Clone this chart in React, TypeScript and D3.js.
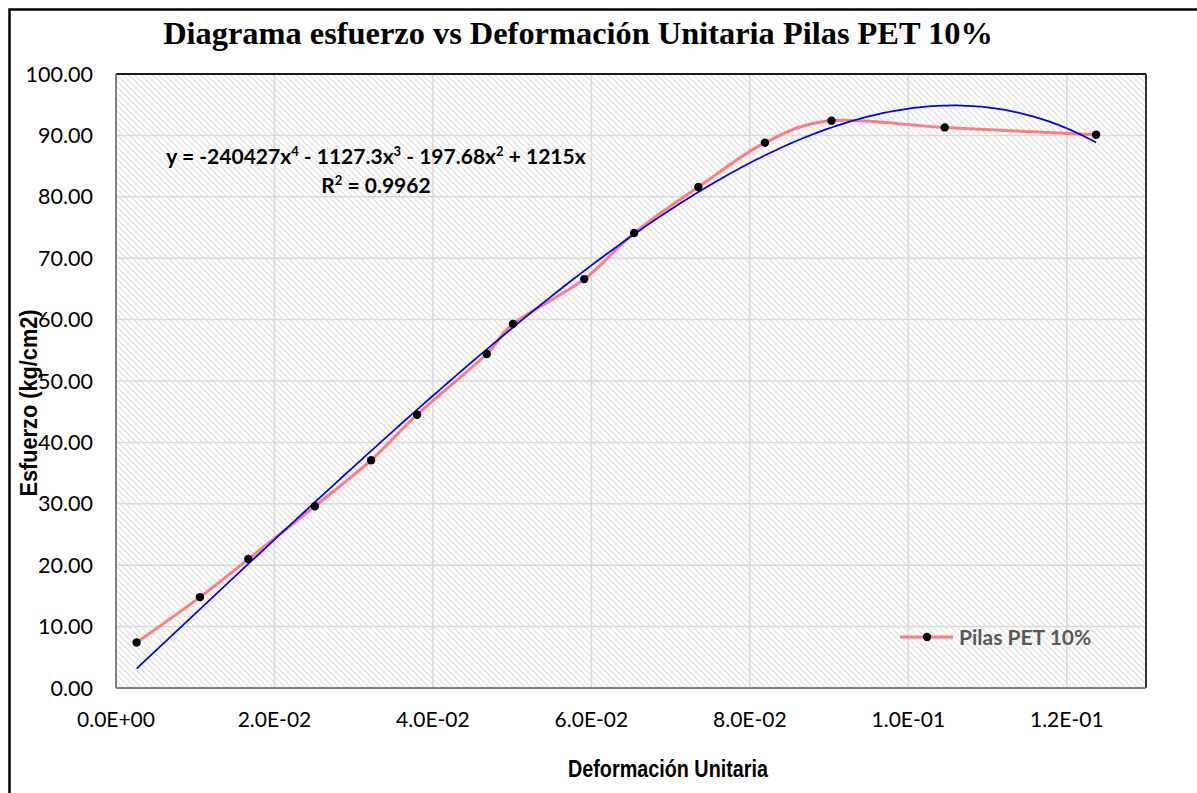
import React from "react";
import * as d3 from "d3";

const strainValues = [0.0026, 0.0106, 0.0167, 0.0251, 0.0322, 0.038, 0.0468, 0.0501, 0.0591, 0.0654, 0.0735, 0.0819, 0.0903, 0.1046, 0.1237];
const stressValues = [7.4, 14.8, 21.0, 29.6, 37.1, 44.5, 54.4, 59.3, 66.6, 74.1, 81.6, 88.8, 92.4, 91.3, 90.1];
// trendline coefficients as printed in the chart: c1*x + c2*x^2 + c3*x^3 + c4*x^4
const trendCoefficients = [1215, -197.68, -1127.3, -240427];
const xTicks = [0, 0.02, 0.04, 0.06, 0.08, 0.1, 0.12];
const xTickLabels = ["0.0E+00", "2.0E-02", "4.0E-02", "6.0E-02", "8.0E-02", "1.0E-01", "1.2E-01"];
const yTicks = [0, 10, 20, 30, 40, 50, 60, 70, 80, 90, 100];

const W = 1197;
const H = 793;
const plot = { left: 116, top: 74, right: 1146, bottom: 688 };

export default function App() {
  const x = d3.scaleLinear().domain([0, 0.13]).range([plot.left, plot.right]);
  const y = d3.scaleLinear().domain([0, 100]).range([plot.bottom, plot.top]);

  const pts: [number, number][] = strainValues.map((v, i) => [v, stressValues[i]]);
  const smooth = d3
    .line<[number, number]>()
    .x((d) => x(d[0]))
    .y((d) => y(d[1]))
    .curve(d3.curveCatmullRom.alpha(0));

  const poly = (v: number) => trendCoefficients.reduce((s, c, i) => s + c * Math.pow(v, i + 1), 0);
  const x0 = strainValues[0];
  const x1 = strainValues[strainValues.length - 1];
  const trendPts: [number, number][] = d3.range(0, 201).map((k) => {
    const v = x0 + ((x1 - x0) * k) / 200;
    return [v, poly(v)];
  });
  const straight = d3
    .line<[number, number]>()
    .x((d) => x(d[0]))
    .y((d) => y(d[1]));

  const tickFont = "Lato, 'Open Sans', sans-serif";
  const narrow = "'Liberation Sans', Arial, sans-serif";

  return (
    <svg width={W} height={H} style={{ position: "absolute", left: 0, top: 0, display: "block", background: "#fff" }}>
      <defs>
        <pattern id="hatch" patternUnits="userSpaceOnUse" width={6} height={6}>
          <rect width={6} height={6} fill="#ffffff" />
          <path d="M0,0 L6,6 M-3,3 L3,9 M3,-3 L9,3" stroke="#dedede" strokeWidth={1.2} />
        </pattern>
      </defs>
      <rect x={0} y={0} width={W} height={H} fill="#fff" />
      <rect x={9.5} y={9.5} width={W + 20} height={H + 20} fill="none" stroke="#000" strokeWidth={2.5} />

      <text x={578} y={44} textAnchor="middle" fontFamily="'Liberation Serif', 'Times New Roman', serif" fontWeight="bold" fontSize={32.4} fill="#000">
        Diagrama esfuerzo vs Deformación Unitaria Pilas PET 10%
      </text>

      <rect x={plot.left} y={plot.top} width={plot.right - plot.left} height={plot.bottom - plot.top} fill="url(#hatch)" />

      {xTicks.slice(1).map((t) => (
        <line key={"vx" + t} x1={x(t)} x2={x(t)} y1={plot.top} y2={plot.bottom} stroke="#d9d9d9" strokeWidth={1.5} />
      ))}
      {yTicks.slice(1, -1).map((t) => (
        <line key={"hy" + t} x1={plot.left} x2={plot.right} y1={y(t)} y2={y(t)} stroke="#d9d9d9" strokeWidth={1.5} />
      ))}

      <line x1={plot.left} x2={plot.right} y1={plot.top} y2={plot.top} stroke="#1a1a1a" strokeWidth={2} />
      <line x1={plot.right} x2={plot.right} y1={plot.top} y2={plot.bottom} stroke="#333" strokeWidth={2} />
      <line x1={plot.left} x2={plot.left} y1={plot.top} y2={plot.bottom} stroke="#808080" strokeWidth={2} />
      <line x1={plot.left} x2={plot.right} y1={plot.bottom} y2={plot.bottom} stroke="#808080" strokeWidth={2} />

      {yTicks.map((t) => (
        <text key={"yl" + t} x={93} y={y(t)} dy="0.35em" textAnchor="end" fontFamily={tickFont} fontSize={21.5} fill="#000">
          {t.toFixed(2)}
        </text>
      ))}
      {xTicks.map((t, i) => (
        <text key={"xl" + t} x={x(t)} y={727} textAnchor="middle" fontFamily={tickFont} fontSize={21} fill="#000">
          {xTickLabels[i]}
        </text>
      ))}

      <text x={668} y={777} textAnchor="middle" fontFamily={narrow} fontWeight="bold" fontSize={23} fill="#000" textLength={200} lengthAdjust="spacingAndGlyphs">
        Deformación Unitaria
      </text>
      <text transform={`translate(37,403) rotate(-90)`} textAnchor="middle" fontFamily={narrow} fontWeight="bold" fontSize={23} fill="#000" textLength={187} lengthAdjust="spacingAndGlyphs">
        Esfuerzo (kg/cm2)
      </text>

      <path d={smooth(pts) || ""} fill="none" stroke="#ff7c80" strokeWidth={3} strokeLinejoin="round" />
      <path d={straight(trendPts) || ""} fill="none" stroke="#0000ff" strokeWidth={1.75} />
      {pts.map((p, i) => (
        <circle key={"p" + i} cx={x(p[0])} cy={y(p[1])} r={4.2} fill="#000" />
      ))}

      <text x={376} y={164} textAnchor="middle" fontFamily={tickFont} fontWeight="bold" fontSize={21} fill="#000">
        <tspan>y = -240427x</tspan>
        <tspan dy={-8} fontSize={13}>4</tspan>
        <tspan dy={8}> - 1127.3x</tspan>
        <tspan dy={-8} fontSize={13}>3</tspan>
        <tspan dy={8}> - 197.68x</tspan>
        <tspan dy={-8} fontSize={13}>2</tspan>
        <tspan dy={8}> + 1215x</tspan>
      </text>
      <text x={376} y={193} textAnchor="middle" fontFamily={tickFont} fontWeight="bold" fontSize={21} fill="#000">
        <tspan>R</tspan>
        <tspan dy={-8} fontSize={13}>2</tspan>
        <tspan dy={8}> = 0.9962</tspan>
      </text>

      <line x1={900} x2={953} y1={637} y2={637} stroke="#ff7c80" strokeWidth={3} />
      <circle cx={927} cy={637} r={4.2} fill="#000" />
      <text x={959} y={645} fontFamily={tickFont} fontWeight="bold" fontSize={21} fill="#595959">
        Pilas PET 10%
      </text>
    </svg>
  );
}
